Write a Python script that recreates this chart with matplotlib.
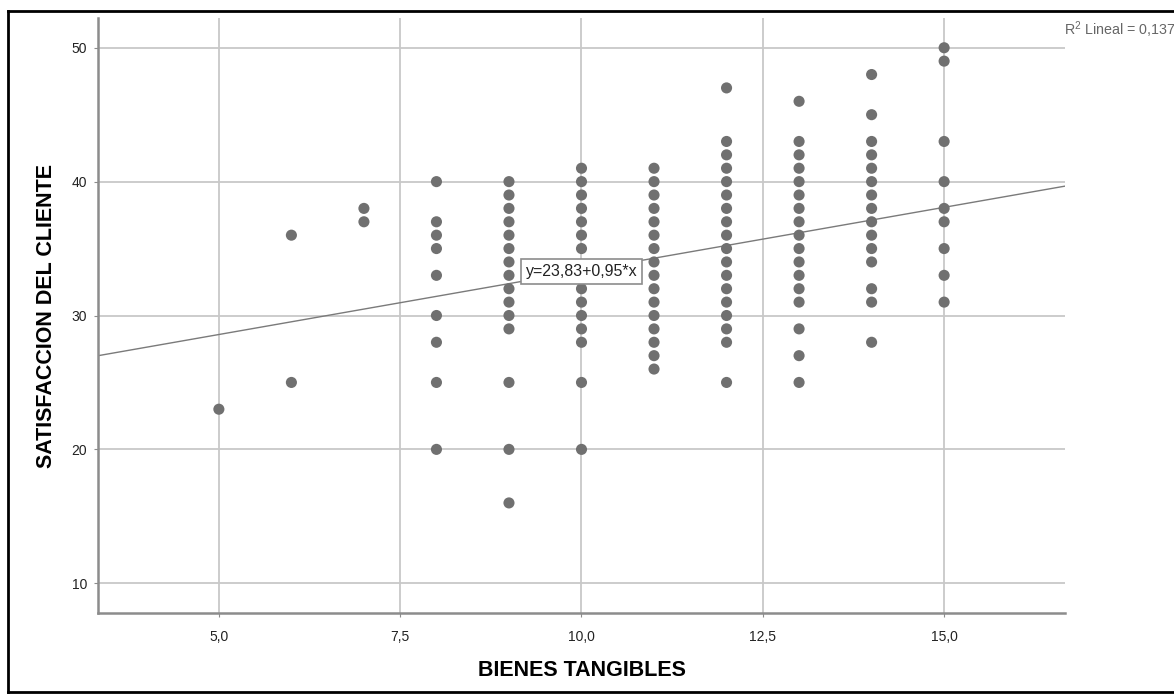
# scatter of satisfaccion del cliente vs bienes tangibles (SPSS style)
import numpy as np
import matplotlib
matplotlib.use("Agg")
import matplotlib.pyplot as plt
from matplotlib.lines import Line2D

plt.rcParams['font.family'] = ['Liberation Sans', 'DejaVu Sans']
plt.rcParams['mathtext.fontset'] = 'custom'
plt.rcParams['mathtext.rm'] = 'Liberation Sans'

# values read per column of the chart (x = BIENES TANGIBLES)
bt_values = [5, 6, 7, 8, 9, 10, 11, 12, 13, 14, 15]
sat_bt5 = [23]
sat_bt6 = [36, 25]
sat_bt7 = [38, 37]
sat_bt8 = [40, 37, 36, 35, 33, 30, 28, 25, 20]
sat_bt9 = [40, 39, 38, 37, 36, 35, 34, 33, 32, 31, 30, 29, 25, 20, 16]
sat_bt10 = [41, 40, 39, 38, 37, 36, 35, 32, 31, 30, 29, 28, 25, 20]
sat_bt11 = [41, 40, 39, 38, 37, 36, 35, 34, 33, 32, 31, 30, 29, 28, 27, 26]
sat_bt12 = [47, 43, 42, 41, 40, 39, 38, 37, 36, 35, 34, 33, 32, 31, 30, 29, 28, 25]
sat_bt13 = [46, 43, 42, 41, 40, 39, 38, 37, 36, 35, 34, 33, 32, 31, 29, 27, 25]
sat_bt14 = [48, 45, 43, 42, 41, 40, 39, 38, 37, 36, 35, 34, 32, 31, 28]
sat_bt15 = [50, 49, 43, 40, 38, 37, 35, 33, 31]

# fit reported in the chart
intercept = 23.83
slope = 0.95
r2 = "0,137"

columns = [sat_bt5, sat_bt6, sat_bt7, sat_bt8, sat_bt9, sat_bt10,
           sat_bt11, sat_bt12, sat_bt13, sat_bt14, sat_bt15]
x = []
y = []
for bt, col in zip(bt_values, columns):
    x += [bt] * len(col)
    y += col
x = np.array(x)
y = np.array(y)

W, H = 1174, 695
fig = plt.figure(figsize=(W / 100, H / 100), dpi=100)
ax = fig.add_axes([98 / W, 1 - 613 / H, (1065 - 98) / W, (613 - 18) / H])

ax.set_xlim(5 - 5 / 3, 15 + 5 / 3)
ax.set_ylim(10 - 20 / 9, 50 + 20 / 9)
ax.set_xticks([5, 7.5, 10, 12.5, 15])
ax.set_xticklabels(["5,0", "7,5", "10,0", "12,5", "15,0"])
ax.set_yticks([10, 20, 30, 40, 50])

ax.grid(True, color='#c8c8c8', lw=1.3, zorder=0)
ax.set_axisbelow(True)
for s in ['top', 'right']:
    ax.spines[s].set_visible(False)
for s in ['left', 'bottom']:
    ax.spines[s].set_color('#8c8c8c')
    ax.spines[s].set_linewidth(1.8)
ax.tick_params(axis='both', length=3, color='#8c8c8c', labelsize=10,
               labelcolor='#222222')
ax.tick_params(axis='x', pad=9)
ax.tick_params(axis='y', pad=5)

ax.scatter(x, y, s=64, color='#707070', edgecolors='none', zorder=3)

# regression line
ax.axline((0, intercept), slope=slope, color='#7a7a7a', lw=1.0, zorder=2)

ax.text(10.0, 33.3, "y=23,83+0,95*x", fontsize=11.5, ha='center', va='center',
        color='#222222', zorder=5,
        bbox=dict(boxstyle='square,pad=0.3', fc='white', ec='#8c8c8c', lw=1.2))

ax.set_xlabel("BIENES TANGIBLES", fontsize=15.5, fontweight='bold', labelpad=12)
ax.set_ylabel("SATISFACCION DEL CLIENTE", fontsize=15.5, fontweight='bold',
              labelpad=10)

# R2 note in the top right corner, kept just inside the figure
fig.text(1064 / W, 1 - 30 / H, r"R$^2$ Lineal = " + r2, fontsize=10.3,
         color='#666666', ha='left', va='center')

# outer frame (open on the right like the original)
frame_col = 'black'
fig.add_artist(Line2D([8 / W, 1], [1 - 11 / H, 1 - 11 / H], color=frame_col, lw=2,
                      transform=fig.transFigure))
fig.add_artist(Line2D([8 / W, 8 / W], [1 - 11 / H, 1 - 692 / H], color=frame_col, lw=2,
                      transform=fig.transFigure))
fig.add_artist(Line2D([8 / W, 1], [1 - 692 / H, 1 - 692 / H], color=frame_col, lw=2,
                      transform=fig.transFigure))

fig.savefig("out.png", dpi=100, facecolor='white')
